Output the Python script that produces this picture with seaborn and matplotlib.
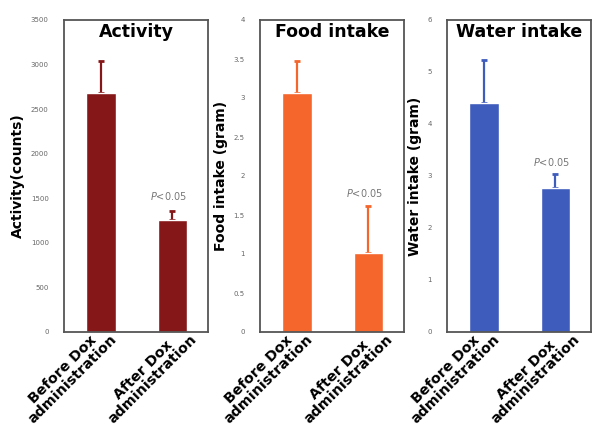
import numpy as np
import pandas as pd
import seaborn as sns
import matplotlib.pyplot as plt
from matplotlib.transforms import ScaledTranslation

sns.set_style("white")
plt.rcParams['font.family'] = ['DejaVu Sans']
plt.rcParams['mathtext.fontset'] = 'dejavusans'

#Data
groups = ["Before Dox\nadministration", "After Dox\nadministration"]
titles = ["Activity", "Food intake", "Water intake"]
ylabels = ["Activity(counts)", "Food intake (gram)", "Water intake (gram)"]
activity_mean = [2680, 1255]
activity_err = [360, 100]
food_mean = [3.07, 1.01]
food_err = [0.40, 0.60]
water_mean = [4.40, 2.76]
water_err = [0.84, 0.28]
ymax = [3500, 4, 6]
ystep = [500, 0.5, 1]
p_text_y = [1530, 1.78, 3.27]
colors = ["#861719", "#f4662c", "#3e5cbb"]

means = [activity_mean, food_mean, water_mean]
errs = [activity_err, food_err, water_err]

fig = plt.figure(figsize=(5.92, 4.29), dpi=100)
lefts = [64, 260, 447]
label_dx = [13.0, 19.5]  # points, shift of rotated labels to the right

for i in range(3):
    ax = fig.add_axes([lefts[i] / 592, 1 - 332 / 429, 144 / 592, 312 / 429])
    df = pd.DataFrame({'group': groups, 'value': means[i]})
    sns.barplot(data=df, x='group', y='value', color=colors[i], width=0.41,
                saturation=1, errorbar=None, ax=ax, zorder=2)
    ax.errorbar([0, 1], means[i], yerr=[[0, 0], errs[i]], fmt='none',
                ecolor=colors[i], elinewidth=1.6, capsize=2.5, capthick=2, zorder=1)
    ax.set_xlim(-0.52, 1.5)
    ax.set_ylim(0, ymax[i])
    ax.set_yticks(np.arange(0, ymax[i] + ystep[i] / 2, ystep[i]))
    ax.yaxis.set_major_formatter(plt.FormatStrFormatter('%g'))
    ax.tick_params(axis='y', direction='in', length=3, width=0.8, color='#555555',
                   labelsize=5, labelcolor='#666666', pad=11)
    ax.tick_params(axis='x', length=0, pad=0)
    ax.set_xticks([0.5], minor=True)
    ax.tick_params(axis='x', which='minor', direction='in', length=2, color='#777777')
    ax.set_xlabel('')
    ax.set_ylabel(ylabels[i], fontsize=10, fontweight='bold', labelpad=4, color='black')
    ax.set_xticks([0, 1])
    ax.set_xticklabels(groups, rotation=45, ha='right', va='top', color='black',
                       fontsize=10.3, fontweight='bold', multialignment='center',
                       linespacing=0.9)
    for lab, dx in zip(ax.get_xticklabels(), label_dx):
        lab.set_transform(lab.get_transform() + ScaledTranslation(dx / 72, 6.5 / 72, fig.dpi_scale_trans))
    for s in ax.spines.values():
        s.set_visible(True)
        s.set_color('#555555')
        s.set_linewidth(1.3)
    ax.text(0.5, 0.962, titles[i], transform=ax.transAxes, ha='center', va='center',
            fontsize=12.5, fontweight='heavy', color='black')
    ax.text(0.95, p_text_y[i], '$P$<0.05', ha='center', va='center',
            fontsize=7, color='#777777')

fig.savefig("out.png", dpi=100)
